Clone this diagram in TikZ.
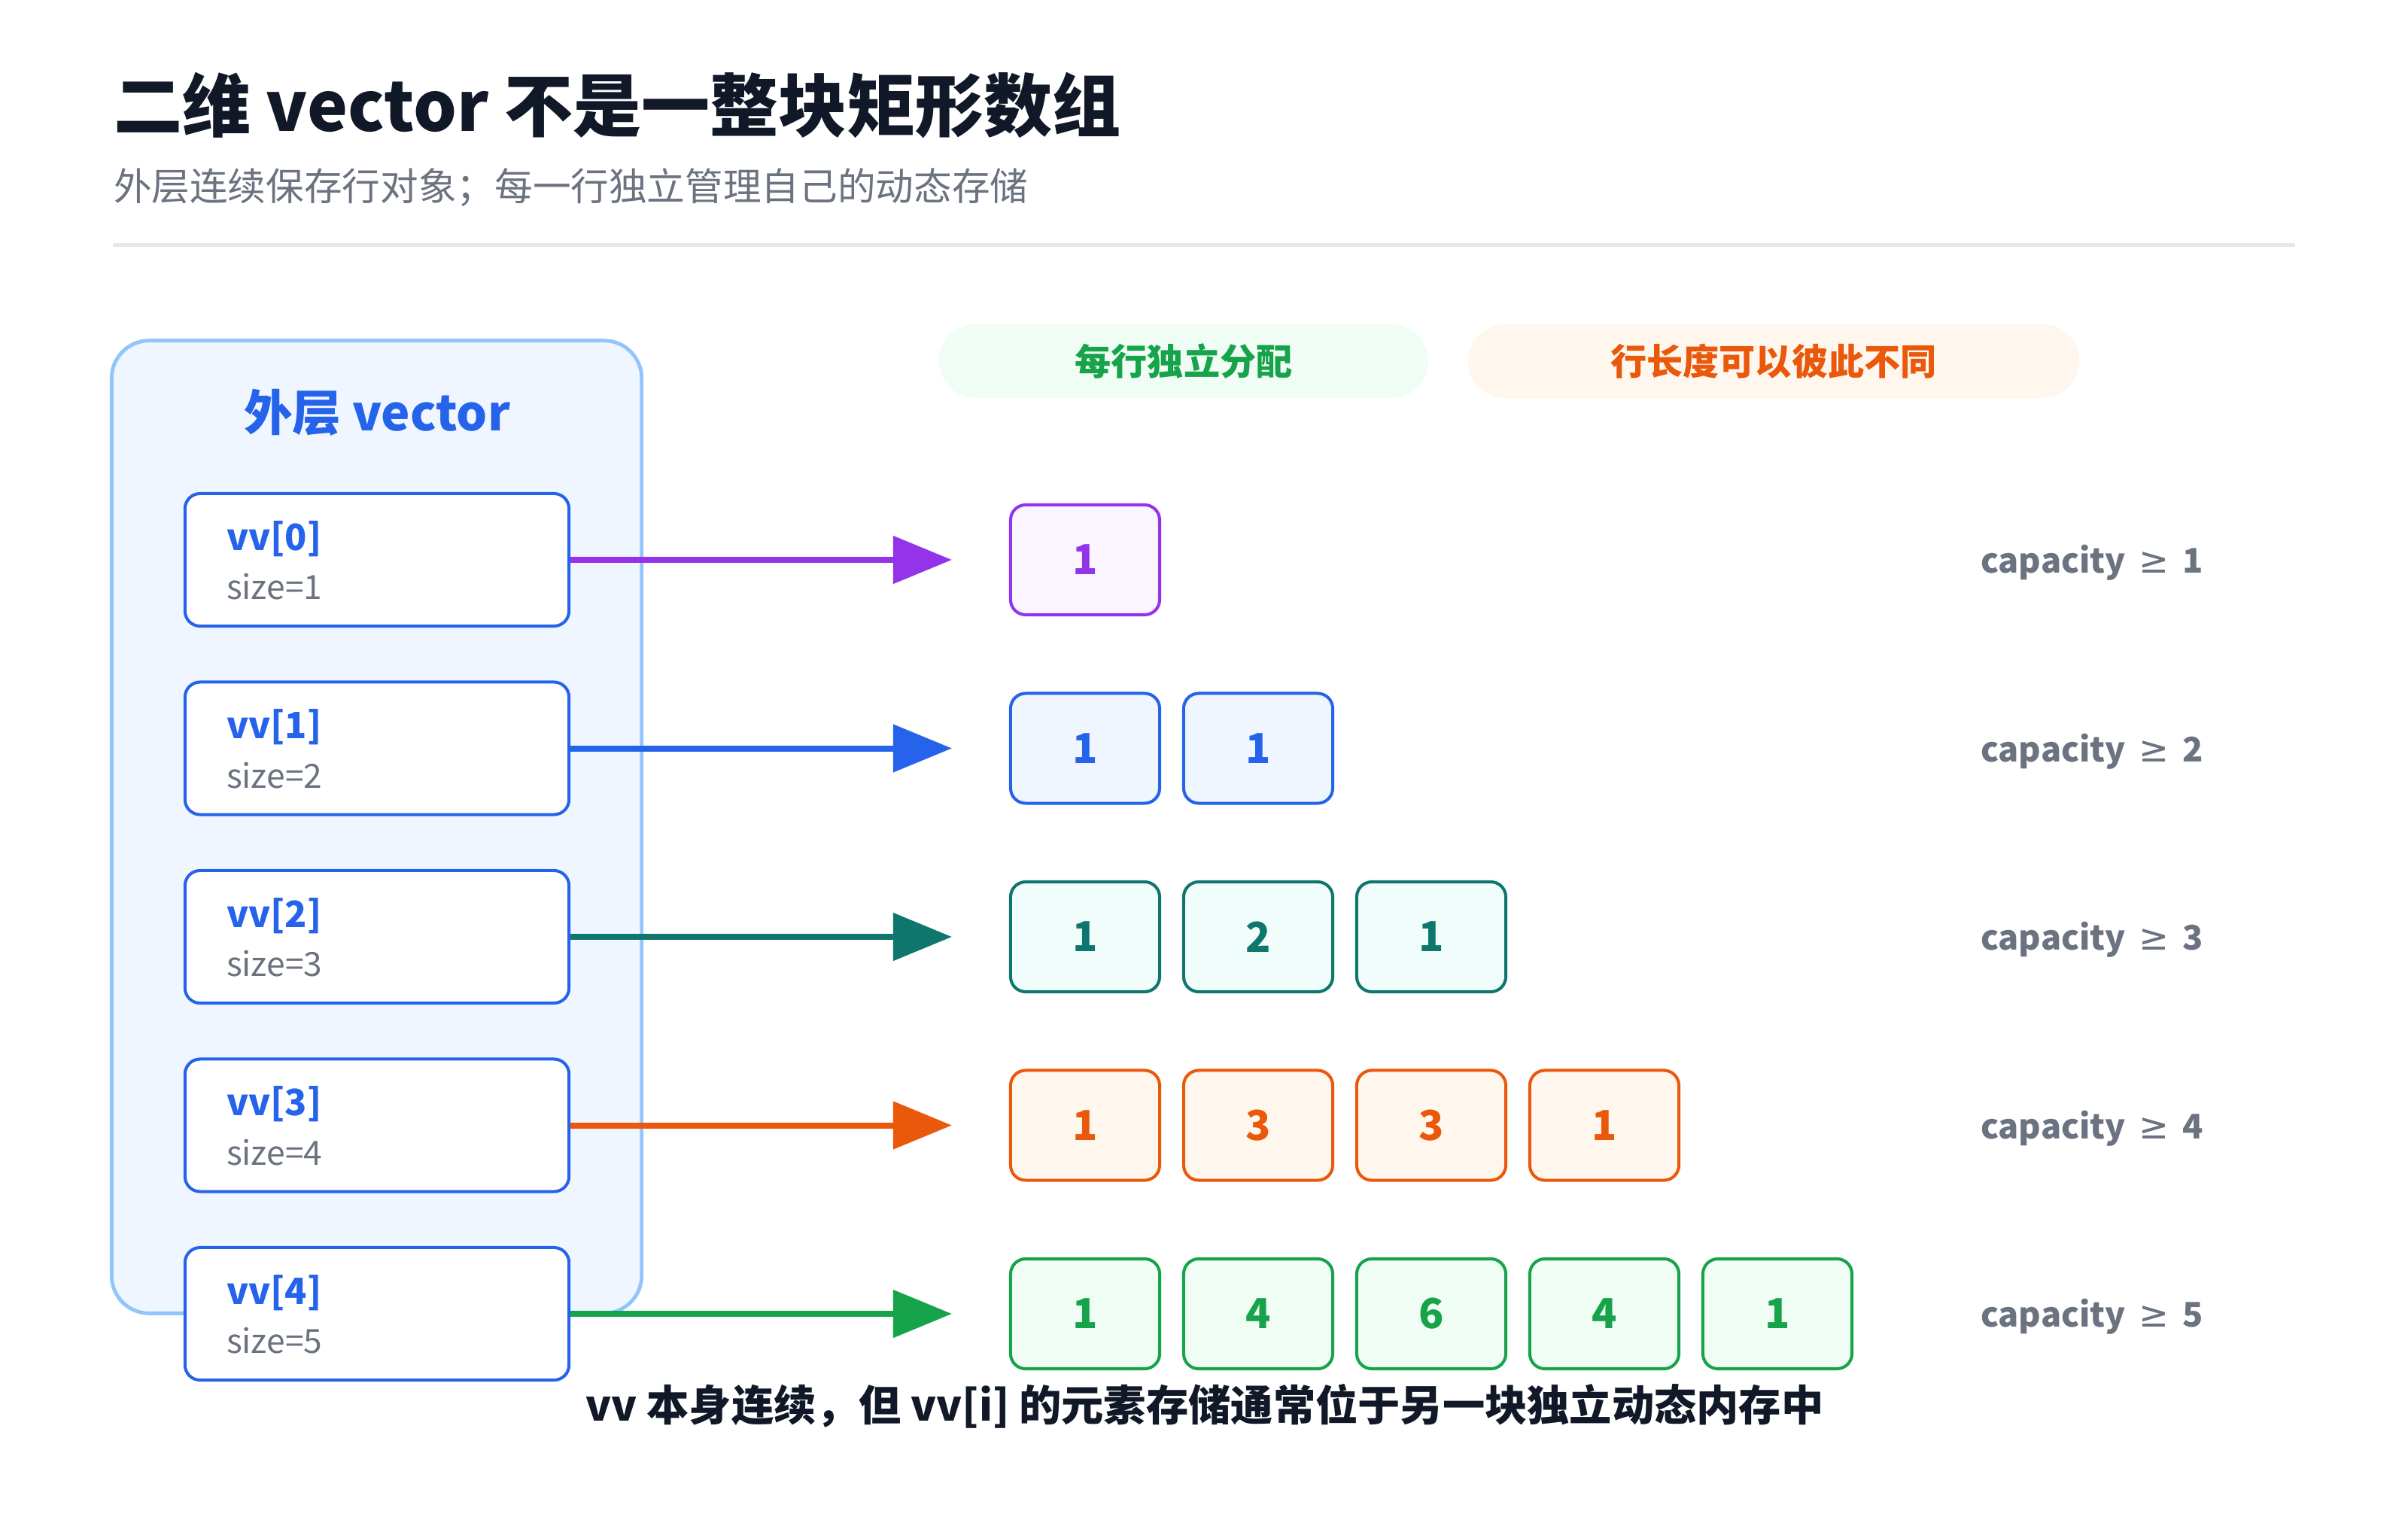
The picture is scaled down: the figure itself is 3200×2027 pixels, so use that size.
\documentclass[tikz,border=0pt]{standalone}
\usepackage{fontspec}
\setmainfont{Noto Sans CJK SC}
\newfontfamily\symf{DejaVu Sans}
\usetikzlibrary{arrows.meta}
\definecolor{ink}{HTML}{111827}
\definecolor{sub}{HTML}{6B7280}
\definecolor{rule}{HTML}{E5E7EB}
\definecolor{panelF}{HTML}{EFF6FF}
\definecolor{panelD}{HTML}{93C5FD}
\definecolor{pur}{HTML}{9333EA}\definecolor{purF}{HTML}{FAF5FF}
\definecolor{blu}{HTML}{2563EB}\definecolor{bluF}{HTML}{EFF6FF}
\definecolor{tea}{HTML}{0F766E}\definecolor{teaF}{HTML}{F0FDFA}
\definecolor{ora}{HTML}{EA580C}\definecolor{oraF}{HTML}{FFF7ED}
\definecolor{gre}{HTML}{16A34A}\definecolor{greF}{HTML}{F0FDF4}
\newcommand{\fsz}[1]{\fontsize{#1}{#1}\selectfont}
\tikzset{
  txt/.style={inner sep=0pt, outer sep=0pt},
  vvbox/.style={draw=blu, line width=1.15pt, fill=white, rounded corners=0.2cm,
    minimum width=5.1cm, minimum height=1.76cm, inner sep=0pt},
  elem/.style={line width=1.15pt, rounded corners=0.2cm,
    minimum width=1.98cm, minimum height=1.46cm, inner sep=0pt,
    font=\fsz{15.6pt}\bfseries},
  link/.style={line width=0.08cm, -{Triangle[length=0.78cm,width=0.62cm]}},
  pill/.style={rounded corners=0.49cm, minimum width=6.5cm, minimum height=0.98cm,
    inner sep=0pt, font=\fsz{13.7pt}\bfseries},
  caplabel/.style={txt, anchor=west, text=sub, font=\fsz{12.8pt}\bfseries},
}
\begin{document}
\begin{tikzpicture}[x=0.01cm,y=-0.01cm]
\fill[white] (0,0) rectangle (3200,2027);
\useasboundingbox (0,0) rectangle (3200,2027);
% header
\node[txt, anchor=west, text=ink, font=\fsz{25.9pt}\bfseries] (title) at (151,140)
  {二维 vector 不是一整块矩形数组};
\node[txt, anchor=west, text=sub, font=\fsz{14.4pt}] (subtitle) at (151,249)
  {外层连续保存行对象；每一行独立管理自己的动态存储};
\draw[rule, line width=0.05cm] (150,325) -- (3050,325);
% outer panel
\node[draw=panelD, fill=panelF, line width=1.4pt, rounded corners=0.5cm,
  minimum width=7.04cm, minimum height=12.92cm, inner sep=0pt] (outer) at (500.5,1099) {};
\node[txt, text=blu, font=\fsz{18.4pt}\bfseries] (outerlabel) at (501,548) {外层 vector};
% pills
\node[pill, fill=greF, text=gre] (pillA) at (1573,480) {每行独立分配};
\node[pill, fill=oraF, text=ora, minimum width=8.12cm] (pillB) at (2357,480) {行长度可以彼此不同};
% rows
\foreach \i/\c/\vals in {0/pur/{1}, 1/blu/{1,1}, 2/tea/{1,2,1}, 3/ora/{1,3,3,1}, 4/gre/{1,4,6,4,1}}{
  \pgfmathsetmacro{\ry}{744+250.5*\i}
  \pgfmathtruncatemacro{\n}{\i+1}
  \node[vvbox] (v\i) at (501,\ry) {};
  \node[txt, anchor=west, text=blu, font=\fsz{13.7pt}\bfseries] (v\i t) at (301,\ry-28) {vv[\i]};
  \node[txt, anchor=west, text=sub, font=\fsz{12.6pt}] (v\i s) at (301,\ry+36) {size=\n};
  \coordinate (t\i) at (1265,\ry);
  \draw[link, \c] (v\i.east) -- (t\i);
  \foreach \v [count=\j from 0] in \vals {
    \node[elem, draw=\c, fill=\c F, text=\c] (e\i\j) at ({1442+230*\j},\ry) {\v};
  }
  \node[caplabel] (cap\i) at (2632,\ry+4) {capacity\, {\symf\mdseries\fsz{13.6pt}≥}\, \n};
}
% footer note
\node[txt, text=ink, font=\fsz{16pt}\bfseries] (note) at (1601,1869)
  {vv 本身连续，但 vv[i] 的元素存储通常位于另一块独立动态内存中};
\end{tikzpicture}
\end{document}
